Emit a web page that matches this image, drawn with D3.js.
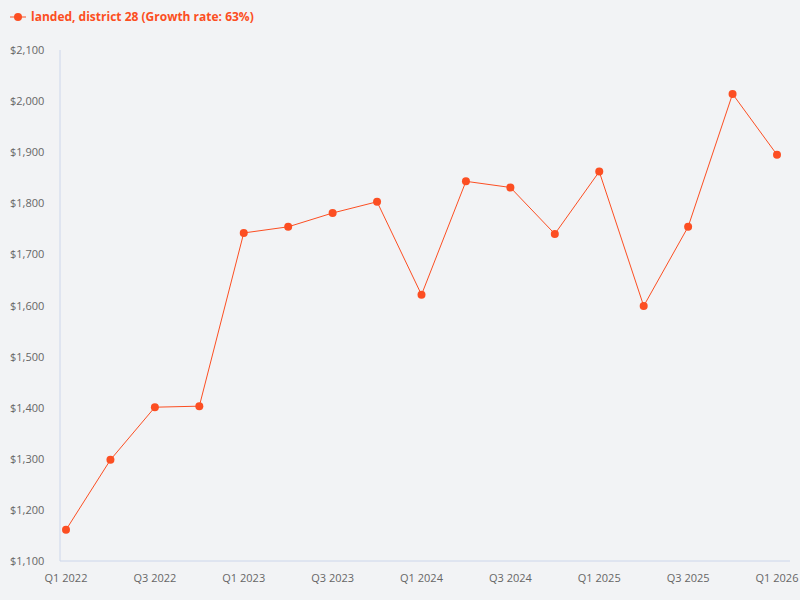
<!DOCTYPE html>
<html><head><meta charset="utf-8">
<script src="https://cdn.jsdelivr.net/npm/d3@7"></script>
<style>body{margin:0;background:#f2f3f5;font-family:"Open Sans",sans-serif;}</style>
</head><body><svg id="chart" width="800" height="600"></svg>
<script>
var quarters = ["Q1 2022","Q2 2022","Q3 2022","Q4 2022","Q1 2023","Q2 2023","Q3 2023","Q4 2023",
  "Q1 2024","Q2 2024","Q3 2024","Q4 2024","Q1 2025","Q2 2025","Q3 2025","Q4 2025","Q1 2026"];
var prices = [1161,1298,1401,1403,1742,1754,1781,1803,1621,1843,1831,1740,1862,1599,1754,2014,1895];
var yTicks = [1100,1200,1300,1400,1500,1600,1700,1800,1900,2000,2100];
var seriesName = "landed, district 28 (Growth rate: 63%)";
var color = "#fc4e22";

var svg = d3.select("#chart");
svg.append("rect").attr("width",800).attr("height",600).attr("fill","#f2f3f5");

var x = d3.scalePoint().domain(quarters).range([66, 777]);
var y = d3.scaleLinear().domain([1100, 2100]).range([561, 50]);

// y axis labels
svg.selectAll(".yl").data(yTicks).enter().append("text")
  .attr("x", 10).attr("y", function(d){ return y(d) + 4; })
  .attr("font-size", 11).attr("fill", "#666")
  .text(function(d){ return "$" + d3.format(",")(d); });

svg.append("line").attr("x1",60).attr("x2",60).attr("y1",50).attr("y2",561)
  .attr("stroke","#ccd6eb");
svg.append("line").attr("x1",60).attr("x2",790).attr("y1",561).attr("y2",561)
  .attr("stroke","#ccd6eb");

// x labels every other quarter
svg.selectAll(".xl").data(quarters.filter(function(d,i){ return i % 2 == 0; })).enter().append("text")
  .attr("x", function(d){ return x(d); }).attr("y", 582)
  .attr("text-anchor","middle").attr("font-size", 11).attr("fill", "#666")
  .text(function(d){ return d; });

var line = d3.line().x(function(d,i){ return x(quarters[i]); }).y(function(d){ return y(d); });
svg.append("path").datum(prices).attr("d", line)
  .attr("fill","none").attr("stroke", color).attr("stroke-width", 1);

svg.selectAll(".pt").data(prices).enter().append("circle")
  .attr("cx", function(d,i){ return x(quarters[i]); })
  .attr("cy", function(d){ return y(d); })
  .attr("r", 4).attr("fill", color);

// legend
svg.append("line").attr("x1",10).attr("x2",26).attr("y1",17).attr("y2",17)
  .attr("stroke",color).attr("stroke-width",1);
svg.append("circle").attr("cx",18).attr("cy",17).attr("r",4).attr("fill",color);
svg.append("text").attr("x",31).attr("y",21).attr("font-size",12).attr("font-weight","bold")
  .attr("fill",color).text(seriesName);
</script></body></html>
